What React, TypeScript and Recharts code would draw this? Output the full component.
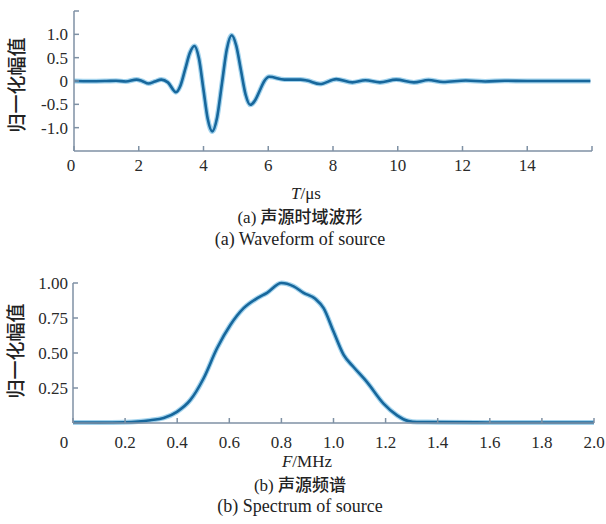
import React from "react";
import { LineChart, Line, XAxis, YAxis } from "recharts";

// (a) source waveform, T in µs, normalised amplitude
const waveT = [
  0, 0.5, 1.0, 1.3, 1.6, 1.93, 2.1, 2.3, 2.5, 2.7, 2.9, 3.15, 3.29, 3.435, 3.58, 3.72, 3.86, 3.995,
  4.13, 4.27, 4.42, 4.57, 4.72, 4.87, 5.01, 5.155, 5.3, 5.44, 5.59, 5.735, 5.88, 6.03, 6.5, 7.0,
  7.2, 7.6, 8.1, 8.6, 9.0, 9.45, 9.95, 10.5, 10.95, 11.4, 12.1, 12.7, 13.3, 14, 15, 15.95,
];
const waveAmp = [
  0, -0.005, 0, 0.005, -0.01, 0.03, 0, -0.055, -0.01, 0.03, -0.03, -0.24, -0.095, 0.255, 0.605, 0.75,
  0.48, -0.165, -0.81, -1.08, -0.78, -0.05, 0.68, 0.98, 0.76, 0.235, -0.29, -0.51, -0.42, -0.21, 0.0,
  0.09, 0.03, 0.03, 0.01, -0.065, 0.04, -0.03, 0.015, -0.03, 0.03, -0.03, 0.02, -0.02, 0.01, -0.01,
  0.005, 0, 0, 0,
];
const waveXTicks = [0, 2, 4, 6, 8, 10, 12, 14, 16];
const waveYTicks = [-1, -0.5, 0, 0.5, 1, 1.5];

// (b) source spectrum, F in MHz
const specF = [
  0, 0.1, 0.2, 0.25, 0.297, 0.348, 0.399, 0.45, 0.501, 0.553, 0.604, 0.655, 0.706, 0.745, 0.8,
  0.847, 0.885, 0.93, 0.962, 1.0, 1.039, 1.077, 1.128, 1.192, 1.244, 1.288, 1.32, 1.4, 1.6, 1.8, 2.0,
];
const specAmp = [
  0.004, 0.003, 0.005, 0.01, 0.02, 0.036, 0.08, 0.163, 0.318, 0.534, 0.7, 0.82, 0.89, 0.93, 1.0, 0.976,
  0.93, 0.887, 0.82, 0.653, 0.486, 0.4, 0.294, 0.139, 0.055, 0.014, 0.007, 0.006, 0.004, 0.004, 0.004,
];
const specXTicks = [0, 0.2, 0.4, 0.6, 0.8, 1.0, 1.2, 1.4, 1.6, 1.8, 2.0];
const specYTicks = [0.25, 0.5, 0.75, 1.0];

const waveData = waveT.map((t, i) => ({ t, v: waveAmp[i] }));
const specData = specF.map((f, i) => ({ f, v: specAmp[i] }));

const AXIS = "#7f91a4";
const LINE = "#17679c";
const HALO = "#7cc0e6";
const SERIF = "'Liberation Serif', 'Times New Roman', serif";
const CJK = "'Noto Sans CJK SC', sans-serif";
const serifText = { fontFamily: SERIF };

function xTick(fmt: (v: number) => string, originDx: number) {
  return (props: any) => {
    const { x, y, payload } = props;
    const v = payload.value as number;
    return (
      <text x={x + (v === 0 ? originDx : 0)} y={y} dy="0.71em" textAnchor="middle"
        style={serifText} fontSize={17} fill="#2a2a2a">
        {fmt(v)}
      </text>
    );
  };
}

function yTick(fmt: (v: number) => string) {
  return (props: any) => {
    const { x, y, payload } = props;
    return (
      <text x={x} y={y} dy="0.36em" textAnchor="end" style={serifText} fontSize={17} fill="#2a2a2a">
        {fmt(payload.value as number)}
      </text>
    );
  };
}

const fmtWaveY = (v: number) => (v === 1.5 ? "" : v === 0 ? "0" : v.toFixed(1));
const fmtWaveX = (v: number) => (v === 16 ? "" : String(v));
const fmtSpecX = (v: number) => (v === 0 ? "0" : v.toFixed(1));
const fmtSpecY = (v: number) => v.toFixed(2);

export default function App() {
  return (
    <div style={{ position: "absolute", left: 0, top: 0, width: 606, height: 524, background: "#fff" }}>
      <div style={{ position: "absolute", left: 0, top: 0 }}>
        <LineChart width={606} height={200} data={waveData} margin={{ top: 11, right: 14, bottom: 19, left: 0 }}>
          <XAxis dataKey="t" type="number" domain={[0, 16]} ticks={waveXTicks} height={30}
            stroke={AXIS} strokeWidth={1.5} tickSize={-5} tickMargin={13}
            tick={xTick(fmtWaveX, -3)} interval={0} />
          <YAxis type="number" domain={[-1.5, 1.5]} ticks={waveYTicks} width={74}
            stroke={AXIS} strokeWidth={1.5} tickSize={-5} tickMargin={11}
            tick={yTick(fmtWaveY)} interval={0} />
          <Line dataKey="v" type="monotone" stroke={HALO} strokeWidth={5} strokeOpacity={0.7}
            dot={false} isAnimationActive={false} />
          <Line dataKey="v" type="monotone" stroke={LINE} strokeWidth={2.6}
            dot={false} isAnimationActive={false} />
        </LineChart>
      </div>
      <div style={{ position: "absolute", left: 0, top: 260 }}>
        <LineChart width={606} height={200} data={specData} margin={{ top: 23, right: 12, bottom: 7, left: 0 }}>
          <XAxis dataKey="f" type="number" domain={[0, 2]} ticks={specXTicks} height={30}
            stroke={AXIS} strokeWidth={1.5} tickSize={-5} tickMargin={18}
            tick={xTick(fmtSpecX, -9)} interval={0} />
          <YAxis type="number" domain={[0, 1]} ticks={specYTicks} width={73}
            stroke={AXIS} strokeWidth={1.5} tickSize={-5} tickMargin={10}
            tick={yTick(fmtSpecY)} interval={0} />
          <Line dataKey="v" type="monotone" stroke={HALO} strokeWidth={5} strokeOpacity={0.7}
            dot={false} isAnimationActive={false} />
          <Line dataKey="v" type="monotone" stroke={LINE} strokeWidth={2.6}
            dot={false} isAnimationActive={false} />
        </LineChart>
      </div>
      <svg width={606} height={524} style={{ position: "absolute", left: 0, top: 0, pointerEvents: "none" }}>
        <g fill="#222">
          <text transform="translate(24,85) rotate(-90)" textAnchor="middle" style={{ fontFamily: CJK }}
            fontSize={19} fontWeight={500}>归一化幅值</text>
          <text x={306} y={199} textAnchor="middle" style={serifText} fontSize={17}>
            <tspan fontStyle="italic">T</tspan>/μs
          </text>
          <text x={300} y={223} textAnchor="middle" fontSize={17}>
            <tspan style={serifText}>(a) </tspan>
            <tspan style={{ fontFamily: CJK }} fontWeight={500}>声源时域波形</tspan>
          </text>
          <text x={300} y={245} textAnchor="middle" style={serifText} fontSize={18}>(a) Waveform of source</text>

          <text transform="translate(23,351) rotate(-90)" textAnchor="middle" style={{ fontFamily: CJK }}
            fontSize={19} fontWeight={500}>归一化幅值</text>
          <text x={307} y={467} textAnchor="middle" style={serifText} fontSize={17}>
            <tspan fontStyle="italic">F</tspan>/MHz
          </text>
          <text x={300} y={491} textAnchor="middle" fontSize={17}>
            <tspan style={serifText}>(b) </tspan>
            <tspan style={{ fontFamily: CJK }} fontWeight={500}>声源频谱</tspan>
          </text>
          <text x={300} y={512} textAnchor="middle" style={serifText} fontSize={18}>(b) Spectrum of source</text>
        </g>
      </svg>
    </div>
  );
}
